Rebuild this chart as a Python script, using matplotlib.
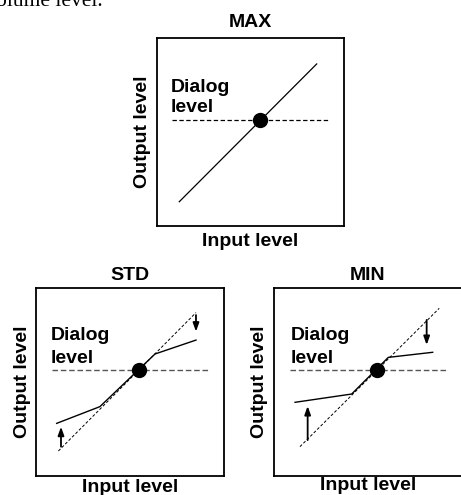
import matplotlib
matplotlib.use("Agg")
import matplotlib.pyplot as plt

W, H = 461, 495
plt.rcParams['font.family'] = ['Liberation Sans', 'DejaVu Sans']

# ---- data (input level / output level, 0-100 scale) ----
panel_titles = ["MAX", "STD", "MIN"]
x_label = "Input level"
y_label = "Output level"
dialog_text = ["Dialog", "level"]

# MAX: straight 1:1 line
max_line_x = [11.9, 85.4]
max_line_y = [12.9, 86.2]
max_dot = (55.1, 56.4)
max_dialog_x = [7.9, 92.5]

# STD: reference diagonal (dashed) and compressed curve (solid)
std_ref_x = [11.9, 85.1]
std_ref_y = [13.3, 86.9]
std_curve_x = [11.0, 34.0, 63.3, 85.1]
std_curve_y = [28.0, 36.9, 64.9, 72.3]
std_dot = (54.9, 56.4)
std_dialog_x = [8.4, 92.2]
std_up_arrow = (13.3, 15.6, 26.2)     # x, y_from, y_to
std_down_arrow = (85.1, 85.6, 76.8)

# MIN: stronger compression
min_ref_x = [13.8, 87.9]
min_ref_y = [15.6, 89.2]
min_curve_x = [11.2, 41.3, 60.8, 84.4]
min_curve_y = [39.2, 43.6, 63.1, 65.8]
min_dot = (54.6, 56.4)
min_dialog_x = [8.5, 92.2]
min_up_arrow = (17.9, 19.1, 37.2)
min_down_arrow = (81.2, 83.0, 69.7)

fig = plt.figure(figsize=(W / 100, H / 100), dpi=100)

def px_axes(left, top, right, bottom):
    return fig.add_axes([left / W, 1 - bottom / H, (right - left) / W, (bottom - top) / H])

def ftext(x, y, s, **kw):
    fig.text(x / W, 1 - y / H, s, **kw)

FS = 14

def style(ax):
    ax.set_xlim(0, 100)
    ax.set_ylim(0, 100)
    ax.set_xticks([])
    ax.set_yticks([])
    for sp in ax.spines.values():
        sp.set_linewidth(1.3)
        sp.set_color('black')

def arrow(ax, a):
    x, y0, y1 = a
    ax.annotate('', xy=(x, y1), xytext=(x, y0),
                arrowprops=dict(arrowstyle='-|>,head_length=0.5,head_width=0.18',
                                lw=1.3, color='black', shrinkA=0, shrinkB=0))

# top page text fragment
ftext(-4, 6, "olume level.", family=['Liberation Serif'], fontsize=15.5,
      va='baseline', ha='left')

# ---- MAX panel ----
ax1 = px_axes(157, 38, 344, 226)
style(ax1)
ax1.plot(max_dialog_x, [max_dot[1]] * 2, color='black', lw=0.9, ls=(0, (3.5, 2)))
ax1.plot(max_line_x, max_line_y, color='black', lw=0.9)
ax1.plot(*max_dot, 'o', color='black', ms=10)

# ---- STD panel ----
ax2 = px_axes(36, 288, 224, 476)
style(ax2)
ax2.plot(std_dialog_x, [std_dot[1]] * 2, color='#555555', lw=1.0, ls=(0, (4, 2)))
ax2.plot(std_ref_x, std_ref_y, color='black', lw=0.7, ls=(0, (3, 2)))
ax2.plot(std_curve_x, std_curve_y, color='black', lw=1.0)
ax2.plot(*std_dot, 'o', color='black', ms=10)
arrow(ax2, std_up_arrow)
arrow(ax2, std_down_arrow)

# ---- MIN panel ----
ax3 = px_axes(274, 288, 462, 476)
style(ax3)
ax3.plot(min_dialog_x, [min_dot[1]] * 2, color='#555555', lw=1.0, ls=(0, (4, 2)))
ax3.plot(min_ref_x, min_ref_y, color='black', lw=0.7, ls=(0, (3, 2)))
ax3.plot(min_curve_x, min_curve_y, color='black', lw=1.0)
ax3.plot(*min_dot, 'o', color='black', ms=10)
arrow(ax3, min_up_arrow)
arrow(ax3, min_down_arrow)

# ---- text ----
kw = dict(fontsize=FS, fontweight='bold', va='baseline')
# titles
ftext(250.5, 27, panel_titles[0], ha='center', **kw)
ftext(130, 280, panel_titles[1], ha='center', **kw)
ftext(368, 280, panel_titles[2], ha='center', **kw)
# x labels
ftext(250.5, 245.5, x_label, ha='center', **kw)
ftext(130, 492.5, x_label, ha='center', **kw)
ftext(368, 490, x_label, ha='center', **kw)
# y labels
for bx, cy in [(147, 132), (27, 382), (264, 382)]:
    fig.text(bx / W, 1 - cy / H, y_label, rotation=90, rotation_mode='anchor',
             ha='center', **kw)
# dialog level notes
for lx, b1, b2 in [(170.7, 92.5, 112), (50.7, 340.5, 363), (291, 340.5, 363)]:
    ftext(lx, b1, dialog_text[0], ha='left', **kw)
    ftext(lx, b2, dialog_text[1], ha='left', **kw)

fig.savefig("out.png", dpi=100)
